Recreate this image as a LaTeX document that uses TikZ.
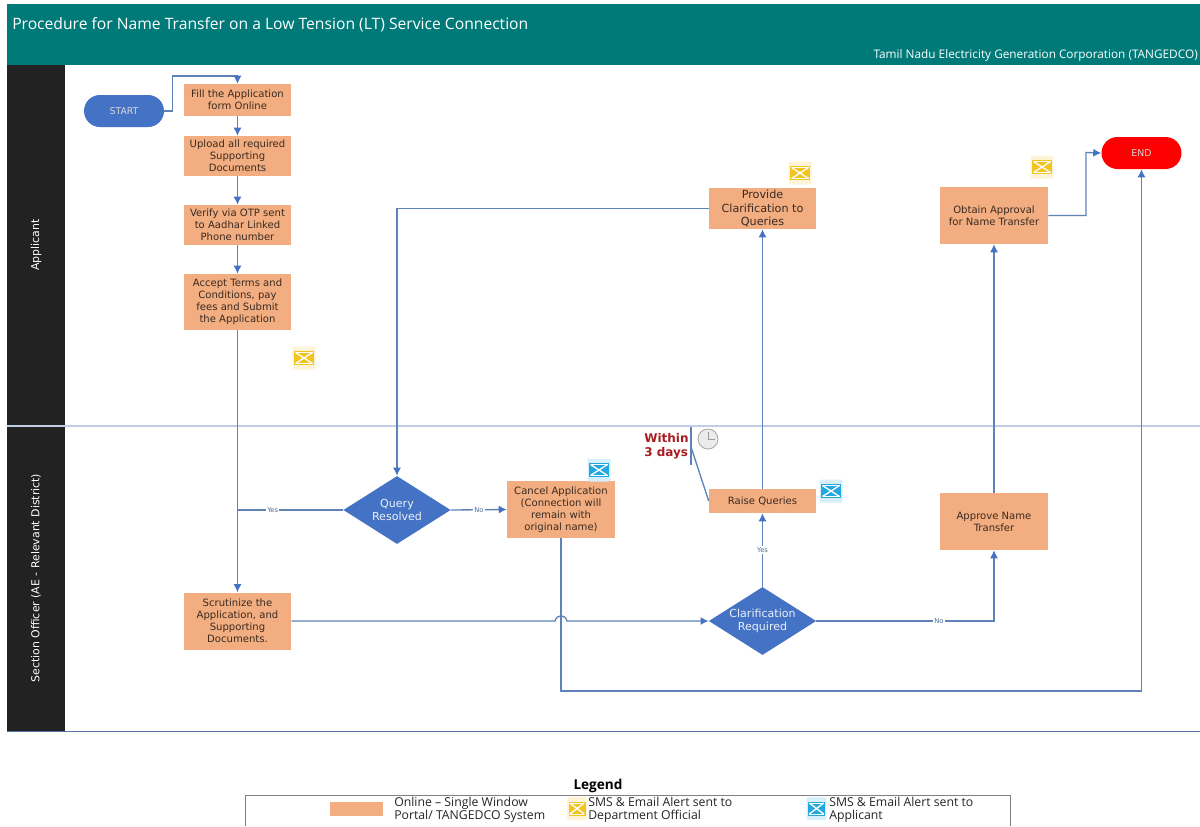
\documentclass[tikz,border=0pt]{standalone}
\usepackage{fontspec}
\setmainfont{DejaVu Sans}
\newfontfamily\titlefont{Open Sans}
\usetikzlibrary{arrows.meta,shapes.geometric,shapes.misc}
\definecolor{teal1}{HTML}{007A78}
\definecolor{lanedark}{HTML}{222222}
\definecolor{boxfill}{HTML}{F2AE80}
\definecolor{boxtext}{HTML}{3A2A22}
\definecolor{flowblue}{HTML}{4472C4}
\definecolor{conn}{HTML}{5F83B8}
\definecolor{mailyellow}{HTML}{F2C420}
\definecolor{mailblue}{HTML}{22A7E0}
\definecolor{redtext}{HTML}{A81C22}
\tikzset{
  proc/.style={rectangle,fill=boxfill,text=boxtext,align=center,minimum width=80.25pt,inner sep=0pt,font=\fontsize{7.55}{9}\selectfont},
  decision/.style={diamond,fill=flowblue,inner sep=0pt,minimum width=80.5pt,minimum height=51pt},
  decisiontext/.style={text=white!90!flowblue,align=center,font=\fontsize{8.3}{10}\selectfont},
  terminal/.style={rounded rectangle,minimum width=60pt,minimum height=24pt,inner sep=0pt,text=white!85!black,font=\fontsize{7}{8}\selectfont},
  flow/.style={draw=conn,line width=1pt,-{Latex[length=6pt,width=6pt,color=flowblue]}},
  plainflow/.style={draw=conn,line width=1pt},
  edgelabel/.style={fill=white,inner sep=1pt,text=conn!80!black,font=\fontsize{5}{6}\selectfont},
  lanelabel/.style={rotate=90,text=white,font=\fontsize{8.2}{10}\selectfont},
  legendtext/.style={anchor=west,align=left,text=black!85,font=\titlefont\fontsize{9.2}{9.8}\selectfont},
}
\newcommand{\mailicon}[5]{%
  \begin{scope}[shift={(#1,#2)},xscale=#4,yscale=#5]
    \fill[#3!18!white,rounded corners=1.5pt] (-11.5,-11.5) rectangle (11.5,11.5);
    \fill[#3] (-10,-7) rectangle (10,7);
    \draw[white,line width=1pt] (-8.5,-5.5) -- (8.5,5.5) (-8.5,5.5) -- (8.5,-5.5);
    \draw[white,line width=.7pt] (-8.5,-5.5) -- (8.5,-5.5) (-8.5,5.5) -- (8.5,5.5);
  \end{scope}}
\begin{document}
\begin{tikzpicture}[x=0.75pt,y=-0.75pt]
\useasboundingbox (0,0) rectangle (1200,826);
\fill[white] (0,0) rectangle (1200,826);
% header
\fill[teal1] (7,4) rectangle (1200,64.5);
\node[anchor=west,text=white,inner sep=0pt,font=\titlefont\fontsize{11.75}{13}\selectfont] (title) at (12,25) {Procedure for Name Transfer on a Low Tension (LT) Service Connection};
\node[anchor=east,text=white,inner sep=0pt,font=\titlefont\fontsize{8.85}{10}\selectfont] (org) at (1198,55.5) {Tamil Nadu Electricity Generation Corporation (TANGEDCO)};
% lanes
\fill[lanedark] (7,64.5) rectangle (65,731);
\draw[conn!40!white,line width=.8pt] (7,426) -- (1200,426);
\draw[conn!90!black,line width=.6pt] (7,731) -- (1200,731);
\node[lanelabel] (lane1) at (36,245) {Applicant};
\node[lanelabel] (lane2) at (36,578) {Section Officer (AE - Relevant District)};
% nodes
\node[terminal,fill=flowblue] (start) at (124,111) {START};
\node[terminal,fill=red] (finish) at (1141.5,153) {END};
\node[proc,minimum height=24pt] (fill) at (237.5,100) {Fill the Application\\form Online};
\node[proc,minimum height=30pt] (upload) at (237.5,156) {Upload all required\\Supporting\\Documents};
\node[proc,minimum height=30pt] (verify) at (237.5,225) {Verify via OTP sent\\to Aadhar Linked\\Phone number};
\node[proc,minimum height=42pt] (accept) at (237.5,302) {Accept Terms and\\Conditions, pay\\fees and Submit\\the Application};
\node[proc,minimum height=42.75pt] (scrut) at (237.5,621) {Scrutinize the\\Application, and\\Supporting\\Documents.};
\node[decision,label={[decisiontext]center:Query\\Resolved}] (query) at (397,510) {};
\node[proc,minimum width=81pt,minimum height=42.75pt] (cancel) at (561,509.5) {Cancel Application\\(Connection will\\remain with\\original name)};
\node[proc,minimum height=18pt] (raise) at (762.5,501) {Raise Queries};
\node[decision,label={[decisiontext]center:Clarification\\Required}] (clar) at (762.5,621) {};
\node[proc,minimum width=81pt,minimum height=42.75pt] (approve) at (994,521.5) {Approve Name\\Transfer};
\node[proc,minimum height=30.75pt,font=\fontsize{8.4}{10.1}\selectfont] (provide) at (762.5,208.5) {Provide\\Clarification to\\Queries};
\node[proc,minimum width=81pt,minimum height=42.75pt] (obtain) at (994,215.5) {Obtain Approval\\for Name Transfer};
% helper points
\coordinate (ftop) at (237.5,76);
\coordinate (jl) at (555,621);
\coordinate (jr) at (567,621);
\coordinate (low) at (561,691);
\coordinate (oc) at (1086,152.5);
\coordinate (bt) at (691,427);
\coordinate (bb) at (691,465);
\coordinate (bm) at (691,447);
% connectors
\draw[flow] (start.east) -- ++(8,0) |- (ftop) -- (fill.north);
\draw[flow] (fill) -- (upload);
\draw[flow] (upload) -- (verify);
\draw[flow] (verify) -- (accept);
\draw[flow] (accept) -- (scrut);
\draw[flow] (provide.west) -| (query.north);
\draw[plainflow] (query.west) -- node[edgelabel,pos=.667] (lyes1) {Yes} (query.west -| scrut);
\draw[flow] (query.east) -- node[edgelabel] (lno1) {No} (cancel.west);
\draw[flow] (scrut.east) -- (jl) .. controls (557,614) and (565,614) .. (jr) -- (clar.west);
\draw[flow] (cancel.south) -- (low) -| (finish.south);
\draw[flow] (clar.north) -- node[edgelabel] (lyes2) {Yes} (raise.south);
\draw[flow] (clar.east) -| node[edgelabel,pos=.345] (lno2) {No} (approve.south);
\draw[flow] (raise.north) -- (provide.south);
\draw[flow] (approve.north) -- (obtain.south);
\draw[flow] (obtain.east) -| (oc) -- (finish.west);
% annotation
\draw[conn,line width=1pt] (bt) -- (bb);
\draw[conn,line width=1pt] (bm) -- (raise.west);
\node[anchor=west,align=left,inner sep=0pt,text=redtext,font=\bfseries\fontsize{9}{10.8}\selectfont] (within) at (644,446) {Within\\3 days};
\filldraw[fill=black!8,draw=black!35,line width=.6pt] (708,439) circle (10);
\draw[black!40,line width=.5pt] (708,432) -- (708,439) -- (715,439);
% mail icons
\mailicon{304}{358}{mailyellow}{1}{1}
\mailicon{800}{173}{mailyellow}{1}{1}
\mailicon{1042}{167}{mailyellow}{1}{1}
\mailicon{599}{470}{mailblue}{1}{1}
\mailicon{831}{491}{mailblue}{1}{1}
% legend
\node[inner sep=0pt,font=\titlefont\bfseries\fontsize{10.2}{11}\selectfont] (legendtitle) at (598,785.5) {Legend};
\draw[black!50,line width=.7pt] (245,826) -- (245,795.5) -- (1010,795.5) -- (1010,826);
\fill[boxfill] (329.5,802) rectangle (383,816);
\node[legendtext,inner sep=0pt] (lg1) at (394,810) {Online – Single Window\\Portal/ TANGEDCO System};
\mailicon{577}{808.5}{mailyellow}{.85}{1}
\node[legendtext,inner sep=0pt] (lg2) at (588,810) {SMS \& Email Alert sent to\\Department Official};
\mailicon{816.5}{808.5}{mailblue}{.85}{1}
\node[legendtext,inner sep=0pt] (lg3) at (829,810) {SMS \& Email Alert sent to\\Applicant};
\end{tikzpicture}
\end{document}
